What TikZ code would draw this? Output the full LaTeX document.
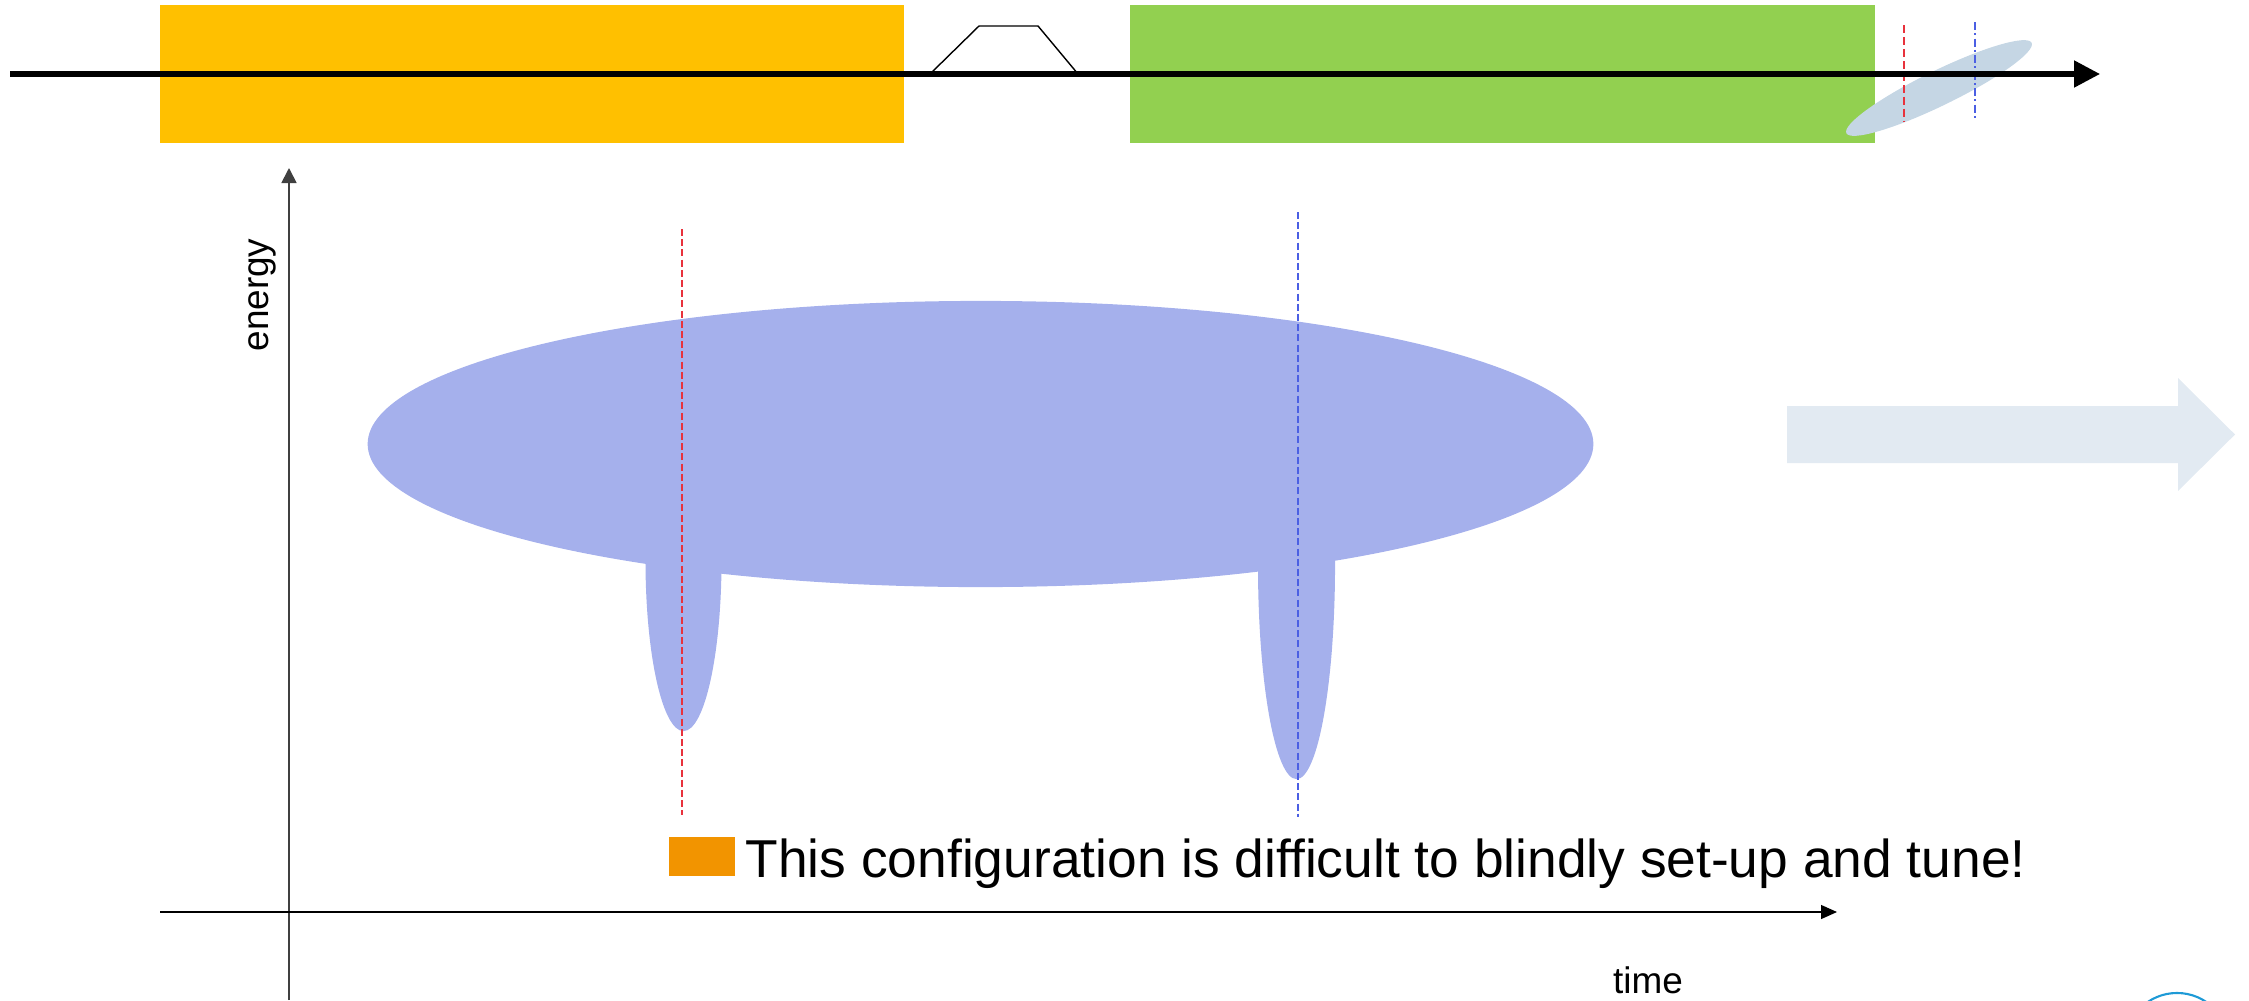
\documentclass[tikz,border=0pt]{standalone}
\usepackage{fontspec}
\setmainfont{Liberation Sans}
\usetikzlibrary{arrows.meta}
\definecolor{cOrange}{HTML}{FFC000}
\definecolor{cGreen}{HTML}{92D050}
\definecolor{cBunch}{HTML}{A5B0EC}
\definecolor{cTilt}{HTML}{C5D6E4}
\definecolor{cBigArrow}{HTML}{E2EAF2}
\definecolor{cBullet}{HTML}{F29400}
\definecolor{cRed}{HTML}{E8323C}
\definecolor{cBlue}{HTML}{4B5FE3}
\definecolor{cLogo}{HTML}{1E9AD6}
\definecolor{cAxis}{HTML}{404040}
\tikzset{
  bunch/.style={fill=cBunch},
  redmark/.style={draw=cRed, line width=0.45pt, dash pattern=on 2pt off 0.9pt},
  bluemark/.style={draw=cBlue, line width=0.45pt, dash pattern=on 2pt off 0.9pt},
  lbl/.style={inner sep=0pt, font=\fontsize{10.5pt}{12pt}\selectfont},
}
\begin{document}
\begin{tikzpicture}[x=0.01cm,y=-0.01cm]
\useasboundingbox (0,0) rectangle (2249,1000);

% top timeline blocks
\fill[cOrange] (160,5) rectangle (904,143);
\fill[cGreen] (1130,5) rectangle (1875,143);
\fill[cTilt, rotate around={26:(1939,88)}] (1939,88) ellipse [x radius=1.03cm, y radius=0.175cm];
\draw[line width=0.4pt] (930,74) -- (979,26) -- (1038,26) -- (1078,74);
\draw[redmark, line width=0.6pt, dash pattern=on 2.3pt off 1.1pt] (1904,25) -- (1904,121);
\draw[bluemark, line width=0.6pt, dash pattern=on 2.3pt off 0.9pt on 0.6pt off 0.9pt] (1975,22) -- (1975,118);
\draw[line width=1.45pt, -{Triangle[length=0.26cm, width=0.26cm]}] (10,74) -- (2100,74);

% axes
\draw[cAxis, line width=0.5pt, -{Triangle[length=0.15cm, width=0.15cm]}] (289,1000) -- (289,168);
\draw[line width=0.35pt, -{Triangle[length=0.16cm, width=0.14cm]}] (160,912) -- (1837,912);
\node[lbl, rotate=90] (energy) at (262,295) {energy};
\node[lbl, anchor=base] (time) at (1648,993) {time};

% bunch
\fill[bunch] (980.5,444) ellipse [x radius=6.125cm, y radius=1.43cm];
\fill[bunch] (683.5,560) ellipse [x radius=0.38cm, y radius=1.71cm];
\fill[bunch] (1296.5,565) ellipse [x radius=0.385cm, y radius=2.14cm];
\draw[redmark] (682,229) -- (682,815);
\draw[bluemark] (1298,212) -- (1298,817);

% big arrow
\fill[cBigArrow] (1787,406) -- (2178,406) -- (2178,378) -- (2235,434.5) -- (2178,491) -- (2178,463) -- (1787,463) -- cycle;

% note
\fill[cBullet] (669,837) rectangle (735,876);
\node[inner sep=0pt, anchor=base west, font=\fontsize{15.17pt}{18pt}\selectfont] (note) at (745,877) {This configuration is difficult to blindly set-up and tune!};

% logo fragment
\draw[cLogo, line width=0.6pt] (2177,1045) circle [radius=0.52cm];
\end{tikzpicture}
\end{document}
